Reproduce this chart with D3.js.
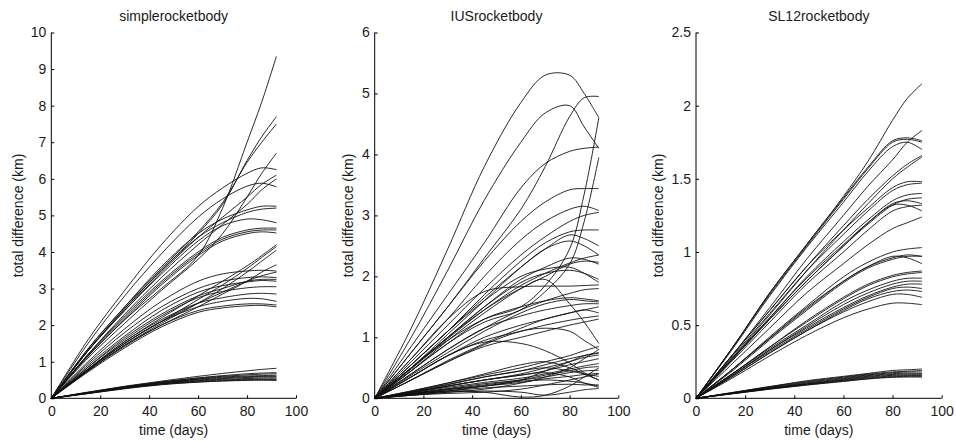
<!DOCTYPE html>
<html>
<head>
<meta charset="utf-8">
<script src="https://cdn.jsdelivr.net/npm/d3@7"></script>
<style>
  html, body { margin: 0; padding: 0; background: #fff; }
  svg { display: block; }
  text { font-family: "Liberation Sans", Arial, sans-serif; fill: #1a1a1a; }
</style>
</head>
<body>
<svg id="chart" width="956" height="441"></svg>
<script>
// ---------------- data ----------------
const days = [0, 15, 30, 45, 60, 70, 80, 86, 92];

const titles = ["simplerocketbody", "IUSrocketbody", "SL12rocketbody"];
const xTicks = [0, 20, 40, 60, 80, 100];
const yTicksSimple = [0, 1, 2, 3, 4, 5, 6, 7, 8, 9, 10];
const yTicksIUS = [0, 1, 2, 3, 4, 5, 6];
const yTicksSL12 = [0, 0.5, 1, 1.5, 2, 2.5];
const xLabel = "time (days)";
const yLabel = "total difference (km)";

const simpleSeries = [
  [0,1.6,2.95,4.2,5.24,5.75,6.15,6.3,6.25],
  [0,1.5,2.8,3.95,4.95,5.45,5.8,5.88,5.78],
  [0,1.35,2.5,3.6,4.5,4.9,5.15,5.25,5.25],
  [0,1.3,2.45,3.5,4.4,4.8,5.08,5.17,5.2],
  [0,1.3,2.4,3.4,4.3,4.72,4.9,4.88,4.8],
  [0,1.2,2.25,3.2,4.0,4.4,4.6,4.65,4.65],
  [0,1.18,2.2,3.15,3.95,4.35,4.55,4.6,4.6],
  [0,1.15,2.15,3.1,3.9,4.3,4.5,4.55,4.52],
  [0,1.15,2.15,3.0,3.9,5.2,7.0,8.1,9.35],
  [0,1.3,2.45,3.5,4.5,5.3,6.5,7.15,7.7],
  [0,1.35,2.5,3.55,4.55,5.35,6.45,7.0,7.5],
  [0,1.1,2.05,2.95,3.8,4.5,5.5,6.15,6.7],
  [0,1.3,2.4,3.45,4.4,4.95,5.5,5.85,6.1],
  [0,1.2,2.3,3.3,4.2,4.75,5.3,5.7,6.0],
  [0,1.0,1.9,2.65,3.2,3.4,3.48,3.5,3.48],
  [0,0.95,1.8,2.5,3.0,3.2,3.3,3.32,3.3],
  [0,0.9,1.7,2.4,2.9,3.08,3.18,3.22,3.2],
  [0,0.85,1.6,2.25,2.75,2.92,3.02,3.05,3.05],
  [0,0.8,1.55,2.15,2.6,2.75,2.85,2.87,2.85],
  [0,0.78,1.5,2.1,2.5,2.65,2.73,2.72,2.65],
  [0,0.75,1.42,2.0,2.4,2.52,2.58,2.58,2.55],
  [0,0.72,1.38,1.95,2.35,2.47,2.53,2.54,2.5],
  [0,0.8,1.55,2.2,2.8,3.2,3.62,3.9,4.2],
  [0,0.78,1.5,2.1,2.7,3.1,3.55,3.85,4.15],
  [0,0.75,1.45,2.05,2.6,3.0,3.45,3.75,4.05],
  [0,0.75,1.45,2.0,2.5,2.85,3.2,3.45,3.65],
  [0,0.8,1.5,2.1,2.6,2.9,3.2,3.35,3.45],
  [0,0.85,1.65,2.3,2.8,3.0,3.2,3.25,3.25],
  [0,0.17,0.33,0.47,0.6,0.68,0.75,0.79,0.82],
  [0,0.16,0.32,0.45,0.56,0.62,0.67,0.69,0.7],
  [0,0.16,0.31,0.44,0.55,0.6,0.64,0.66,0.67],
  [0,0.15,0.3,0.43,0.53,0.58,0.61,0.62,0.63],
  [0,0.15,0.3,0.42,0.52,0.56,0.59,0.6,0.6],
  [0,0.15,0.29,0.41,0.5,0.54,0.57,0.58,0.58],
  [0,0.14,0.28,0.4,0.48,0.52,0.54,0.55,0.55],
  [0,0.14,0.28,0.39,0.47,0.5,0.52,0.52,0.52],
  [0,0.13,0.27,0.38,0.45,0.48,0.5,0.5,0.5],
  [0,0.13,0.26,0.37,0.44,0.47,0.49,0.5,0.49]
];

const iusSeries = [
  [0,1.15,2.45,3.8,4.85,5.3,5.3,5.0,4.6],
  [0,1.0,2.1,3.25,4.2,4.68,4.8,4.45,4.1],
  [0,0.75,1.5,2.3,3.1,3.8,4.62,4.93,4.95],
  [0,0.85,1.7,2.55,3.45,3.85,4.05,4.1,4.12],
  [0,0.5,0.95,1.3,1.5,1.85,2.45,3.35,4.6],
  [0,0.45,0.9,1.25,1.45,1.75,2.2,2.9,3.95],
  [0,0.75,1.5,2.25,2.9,3.22,3.42,3.44,3.44],
  [0,0.65,1.3,2.0,2.6,2.9,3.1,3.15,3.08],
  [0,0.6,1.2,1.8,2.35,2.65,2.9,3.0,3.05],
  [0,0.55,1.1,1.7,2.25,2.55,2.73,2.76,2.76],
  [0,0.5,1.05,1.6,2.15,2.45,2.68,2.62,2.5],
  [0,0.55,1.1,1.65,2.15,2.45,2.58,2.5,2.35],
  [0,0.5,1.0,1.5,1.95,2.15,2.3,2.28,2.2],
  [0,0.55,1.1,1.6,2.0,2.12,2.15,2.05,1.9],
  [0,0.5,1.0,1.5,1.9,2.05,2.1,2.05,1.95],
  [0,0.45,0.95,1.4,1.8,2.0,2.2,2.25,2.23],
  [0,0.48,0.98,1.45,1.85,2.05,2.22,2.3,2.35],
  [0,0.65,1.3,1.75,1.83,1.84,1.84,1.85,1.86],
  [0,0.5,1.0,1.45,1.8,1.95,1.55,1.25,0.9],
  [0,0.45,0.9,1.3,1.5,1.6,1.65,1.63,1.6],
  [0,0.4,0.8,1.15,1.35,1.45,1.52,1.55,1.55],
  [0,0.35,0.7,1.0,1.2,1.3,1.4,1.45,1.5],
  [0,0.35,0.7,0.95,1.1,1.2,1.28,1.32,1.35],
  [0,0.3,0.6,0.85,1.0,1.1,1.2,1.25,1.3],
  [0,0.4,0.8,1.15,1.45,1.6,1.72,1.78,1.8],
  [0,0.38,0.75,1.1,1.4,1.55,1.62,1.6,1.58],
  [0,0.35,0.7,0.92,0.9,0.78,0.58,0.42,0.3],
  [0,0.3,0.6,0.88,1.1,1.15,1.1,0.95,0.8],
  [0,0.3,0.62,0.9,1.15,1.3,1.4,1.45,1.4],
  [0,0.12,0.25,0.38,0.5,0.6,0.7,0.78,0.85],
  [0,0.11,0.23,0.35,0.45,0.55,0.65,0.7,0.74],
  [0,0.1,0.2,0.3,0.4,0.5,0.6,0.67,0.71],
  [0,0.1,0.2,0.3,0.38,0.45,0.55,0.6,0.65],
  [0,0.09,0.18,0.26,0.33,0.4,0.48,0.53,0.57],
  [0,0.08,0.16,0.24,0.3,0.38,0.45,0.5,0.52],
  [0,0.08,0.15,0.22,0.3,0.35,0.42,0.45,0.46],
  [0,0.07,0.14,0.2,0.26,0.32,0.36,0.39,0.41],
  [0,0.1,0.22,0.35,0.45,0.5,0.45,0.4,0.36],
  [0,0.12,0.25,0.4,0.55,0.6,0.5,0.4,0.3],
  [0,0.06,0.12,0.17,0.2,0.22,0.23,0.22,0.22],
  [0,0.05,0.1,0.12,0.1,0.05,0.1,0.14,0.16],
  [0,0.06,0.12,0.1,0.02,0.05,0.2,0.35,0.5],
  [0,0.05,0.1,0.15,0.25,0.35,0.5,0.65,0.8],
  [0,0.07,0.15,0.2,0.3,0.45,0.6,0.7,0.75],
  [0,0.06,0.12,0.2,0.28,0.3,0.28,0.25,0.2],
  [0,0.09,0.2,0.3,0.38,0.42,0.35,0.25,0.18],
  [0,0.05,0.08,0.1,0.15,0.22,0.3,0.35,0.4]
];

const sl12Series = [
  [0,0.35,0.72,1.05,1.38,1.62,1.9,2.05,2.15],
  [0,0.35,0.72,1.05,1.37,1.58,1.76,1.78,1.76],
  [0,0.35,0.71,1.04,1.36,1.57,1.75,1.77,1.75],
  [0,0.34,0.7,1.03,1.34,1.55,1.72,1.75,1.7],
  [0,0.3,0.62,0.95,1.25,1.45,1.63,1.75,1.83],
  [0,0.3,0.6,0.9,1.18,1.36,1.52,1.6,1.66],
  [0,0.28,0.57,0.87,1.15,1.33,1.5,1.58,1.65],
  [0,0.3,0.6,0.9,1.15,1.3,1.44,1.48,1.48],
  [0,0.29,0.58,0.87,1.12,1.28,1.42,1.46,1.47],
  [0,0.28,0.55,0.83,1.07,1.22,1.35,1.39,1.4],
  [0,0.27,0.54,0.8,1.04,1.19,1.32,1.36,1.37],
  [0,0.27,0.54,0.8,1.04,1.2,1.33,1.35,1.33],
  [0,0.26,0.52,0.78,1.0,1.15,1.28,1.31,1.32],
  [0,0.27,0.55,0.82,1.05,1.2,1.32,1.32,1.28],
  [0,0.24,0.48,0.72,0.92,1.05,1.16,1.2,1.24],
  [0,0.2,0.42,0.63,0.83,0.93,1.0,1.02,1.03],
  [0,0.2,0.41,0.61,0.8,0.9,0.96,0.98,0.97],
  [0,0.19,0.4,0.6,0.79,0.89,0.95,0.97,0.97],
  [0,0.2,0.41,0.62,0.8,0.9,0.97,0.96,0.92],
  [0,0.17,0.35,0.53,0.69,0.78,0.84,0.86,0.87],
  [0,0.17,0.35,0.52,0.68,0.77,0.83,0.85,0.86],
  [0,0.17,0.34,0.5,0.66,0.74,0.8,0.82,0.82],
  [0,0.16,0.33,0.49,0.64,0.72,0.78,0.8,0.8],
  [0,0.16,0.33,0.48,0.62,0.7,0.76,0.78,0.78],
  [0,0.16,0.32,0.47,0.61,0.69,0.75,0.76,0.75],
  [0,0.15,0.31,0.46,0.6,0.68,0.73,0.74,0.73],
  [0,0.15,0.31,0.46,0.59,0.66,0.71,0.71,0.69],
  [0,0.14,0.29,0.43,0.55,0.61,0.65,0.65,0.64],
  [0,0.04,0.08,0.12,0.15,0.17,0.19,0.195,0.2],
  [0,0.04,0.08,0.115,0.145,0.165,0.18,0.185,0.19],
  [0,0.037,0.075,0.11,0.14,0.16,0.175,0.18,0.18],
  [0,0.036,0.072,0.105,0.135,0.155,0.168,0.172,0.17],
  [0,0.035,0.07,0.1,0.13,0.15,0.163,0.166,0.165],
  [0,0.034,0.068,0.098,0.126,0.145,0.157,0.16,0.16],
  [0,0.033,0.066,0.095,0.122,0.14,0.152,0.155,0.155],
  [0,0.032,0.064,0.092,0.118,0.135,0.147,0.15,0.15],
  [0,0.031,0.062,0.09,0.115,0.132,0.143,0.145,0.145]
];

// ---------------- layout ----------------
const panels = [
  { title: titles[0], series: simpleSeries, yTicks: yTicksSimple, yMax: 10, x0: 51.3, x1: 296, ylx: 18 },
  { title: titles[1], series: iusSeries, yTicks: yTicksIUS, yMax: 6, x0: 374.7, x1: 618.3, ylx: 348 },
  { title: titles[2], series: sl12Series, yTicks: yTicksSL12, yMax: 2.5, x0: 696, x1: 941.7, ylx: 658 }
];
const yTop = 32.5, yBot = 398.3;

const svg = d3.select("#chart");

panels.forEach(p => {
  const x = d3.scaleLinear().domain([0, 100]).range([p.x0, p.x1]);
  const y = d3.scaleLinear().domain([0, p.yMax]).range([yBot, yTop]);
  const g = svg.append("g");

  const line = d3.line()
    .x((d, i) => x(days[i]))
    .y(d => y(d))
    .curve(d3.curveCatmullRom.alpha(0.5));

  g.append("g").selectAll("path")
    .data(p.series)
    .join("path")
    .attr("d", line)
    .attr("fill", "none")
    .attr("stroke", "#111")
    .attr("stroke-width", 0.9);

  const xAxis = d3.axisBottom(x).tickValues(xTicks).tickSize(-3).tickPadding(8).tickFormat(d3.format("d"));
  const gx = g.append("g").attr("transform", `translate(0,${yBot})`).call(xAxis);
  const yAxis = d3.axisLeft(y).tickValues(p.yTicks).tickSize(-3).tickPadding(5).tickFormat(d => String(d));
  const gy = g.append("g").attr("transform", `translate(${p.x0},0)`).call(yAxis);

  [gx, gy].forEach(a => {
    a.select(".domain").attr("stroke", "#000").attr("stroke-width", 1);
    a.selectAll(".tick line").attr("stroke", "#000");
    a.selectAll("text").attr("font-size", 14).attr("font-family", "Liberation Sans, Arial, sans-serif").attr("fill", "#1a1a1a");
  });
  gx.select(".domain").attr("d", `M${p.x0},0H${p.x1}`);
  gy.select(".domain").attr("d", `M0,${yBot}V${yTop}`);

  g.append("text")
    .attr("x", (p.x0 + p.x1) / 2).attr("y", 21)
    .attr("text-anchor", "middle").attr("font-size", 14)
    .text(p.title);

  g.append("text")
    .attr("x", (p.x0 + p.x1) / 2).attr("y", 435)
    .attr("text-anchor", "middle").attr("font-size", 14)
    .text(xLabel);

  g.append("text")
    .attr("transform", `translate(${p.ylx},${(yTop + yBot) / 2}) rotate(-90)`)
    .attr("text-anchor", "middle").attr("dominant-baseline", "central").attr("font-size", 14)
    .text(yLabel);
});
</script>
</body>
</html>
